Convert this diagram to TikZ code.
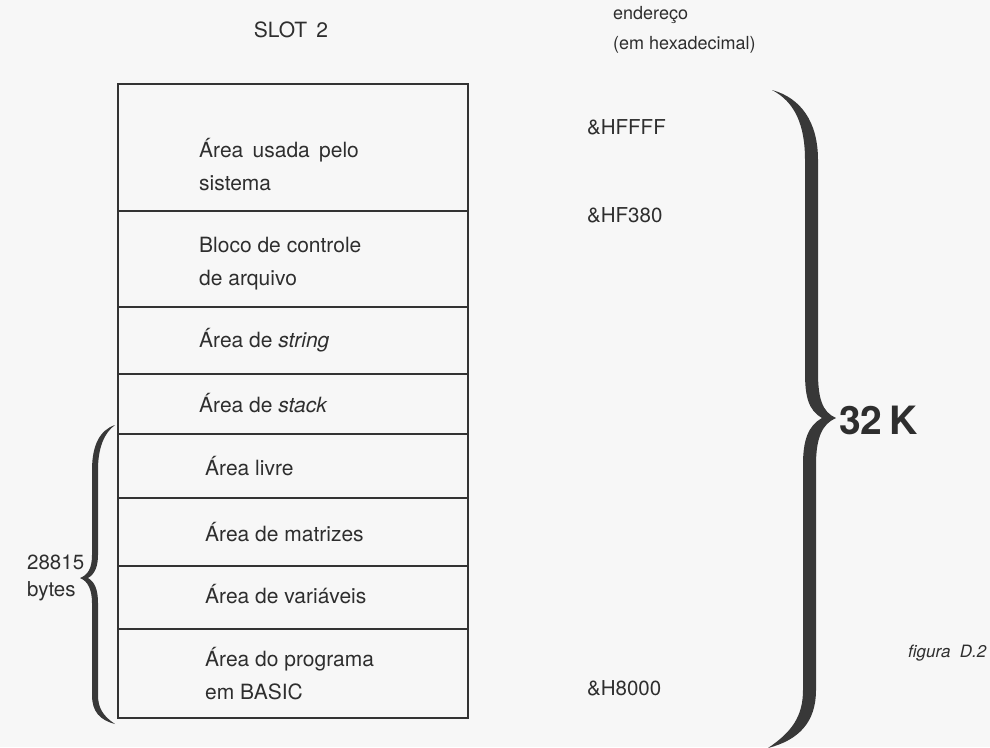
\documentclass[tikz,border=0pt]{standalone}
\usepackage{fontspec}
\setmainfont{TeX Gyre Heros}
\begin{document}
\begin{tikzpicture}[x=1pt,y=-1pt,
  ink/.style={draw=black!80},
  row/.style={ink, line width=1.8pt, minimum width=350pt, inner sep=0pt, anchor=north west},
  lab/.style={anchor=west, inner sep=0pt, text=black!82, font=\fontsize{21}{33}\selectfont, align=left},
  addr/.style={anchor=west, inner sep=0pt, text=black!82, font=\fontsize{20.5}{30}\selectfont, align=left},
  bracefill/.style={fill=black!78, draw=none}
]
\fill[black!3] (0,0) rectangle (990,747);
\useasboundingbox (0,0) rectangle (990,747);

% rows of the memory map
\node[row, minimum height=127pt] (r1) at (117,83) {};
\node[row, minimum height=96pt]  (r2) at (117,210) {};
\node[row, minimum height=67pt]  (r3) at (117,306) {};
\node[row, minimum height=60pt]  (r4) at (117,373) {};
\node[row, minimum height=64pt]  (r5) at (117,433) {};
\node[row, minimum height=68pt]  (r6) at (117,497) {};
\node[row, minimum height=63pt]  (r7) at (117,565) {};
\node[row, minimum height=89pt]  (r8) at (117,628) {};

% labels
\node[lab] (t1) at (199,165) {Área\, usada\, pelo\\sistema};
\node[lab] (t2) at (199,264) {Bloco de controle\\de arquivo};
\node[lab] (t3) at (199,340) {Área de \textit{string}};
\node[lab] (t4) at (199,403) {Área de \textit{stack}};
\node[lab] (t5) at (205,466) {Área livre};
\node[lab] (t6) at (205,532) {Área de matrizes};
\node[lab] (t7) at (205,594) {Área de variáveis};
\node[lab] (t8) at (205,674) {Área do programa\\em BASIC};

\node[anchor=center, inner sep=0pt, text=black!82, font=\fontsize{21}{25}\selectfont] (slot) at (291,30) {SLOT\, 2};
\node[addr, font=\fontsize{18}{30}\selectfont] (end) at (613,30) {endereço\\(em hexadecimal)};
\node[addr] (a1) at (587,127) {\&HFFFF};
\node[addr] (a2) at (587,215) {\&HF380};
\node[addr] (a3) at (587,688) {\&H8000};

\node[anchor=west, inner sep=0pt, text=black!82, font=\fontsize{39}{44}\bfseries\selectfont] (k32) at (839,420) {32\,K};
\node[anchor=west, inner sep=0pt, text=black!82, font=\fontsize{17}{20}\itshape\selectfont] (fig) at (908,653) {figura\; D.2};

\node[anchor=west, inner sep=0pt, text=black!82, font=\fontsize{20.5}{27}\selectfont, align=left] (bytes) at (27,578) {28815\\bytes};

% big brace (32 K)
\fill[bracefill] (772,90) .. controls (801,98) and (818,122) .. (818,160)
  -- (818,372) .. controls (818,398) and (822,412) .. (836,418)
  .. controls (822,424) and (816,438) .. (816,465)
  -- (816,690) .. controls (816,722) and (799,740) .. (768,748)
  .. controls (792,732) and (803,716) .. (803,690)
  -- (803,465) .. controls (803,440) and (808,426) .. (822,418)
  .. controls (808,410) and (805,396) .. (805,372)
  -- (805,160) .. controls (805,125) and (795,102) .. (772,90) -- cycle;

% small brace (28815 bytes)
\fill[bracefill] (115,425) .. controls (100,430) and (92,445) .. (92,470)
  -- (92,555) .. controls (92,568) and (88,575) .. (80,578)
  .. controls (88,581) and (92,590) .. (92,603)
  -- (92,695) .. controls (92,712) and (100,720) .. (115,724)
  .. controls (103,716) and (98,708) .. (98,695)
  -- (98,603) .. controls (98,590) and (95,582) .. (88,578)
  .. controls (95,574) and (98,566) .. (98,555)
  -- (98,470) .. controls (98,448) and (104,433) .. (115,425) -- cycle;
\end{tikzpicture}
\end{document}
